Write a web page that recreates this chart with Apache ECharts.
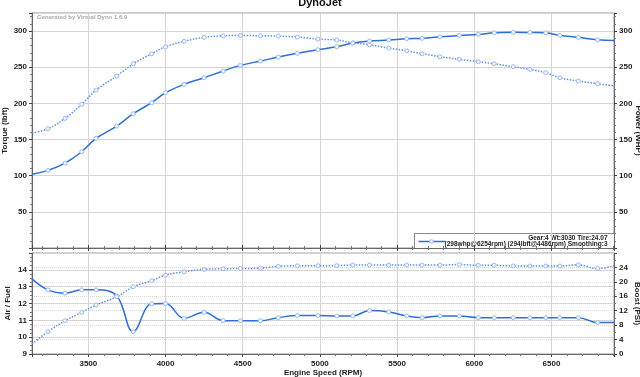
<!DOCTYPE html>
<html>
<head>
<meta charset="utf-8">
<script src="https://cdn.jsdelivr.net/npm/echarts@6/dist/echarts.min.js"></script>
<style>
  html, body { margin: 0; padding: 0; background: #fff; }
  #main { width: 640px; height: 377px; }
</style>
</head>
<body>
<div id="main"></div>
<script>
// sample points (rpm), first and last are the plot edges
const rpm = [3135, 3238, 3349, 3457, 3550, 3684, 3791, 3910, 4000, 4120, 4250, 4373, 4485, 4614, 4731, 4854, 4987,
    5109, 5213, 5321, 5446, 5562, 5662, 5778, 5903, 6026, 6129, 6252, 6360, 6463, 6554, 6674, 6799, 6905]
const torque = [159, 165, 179.3, 198.7, 218.4, 237.8, 254.8, 268.6, 278.3, 285.8, 291.3, 293.5, 294, 293.5, 293.1, 291.7, 288.9,
    287.6, 283.8, 281.1, 276.5, 272.8, 268.6, 264.5, 260.9, 257.6, 254.8, 250.7, 247.1, 242.4, 235.5, 230.9, 227.2, 224]
const power = [101.9, 107.4, 117.5, 133.1, 151.6, 168.7, 185.7, 200.9, 214.7, 226.3, 235.5, 244.7, 252.6, 258.5, 264, 269.2, 274.2,
    278.3, 283.4, 286.2, 287.6, 289.4, 289.9, 292.1, 294, 295.4, 297.6, 298.3, 298, 297.6, 294, 291.3, 288, 287]
const afr = [13.46, 12.81, 12.61, 12.81, 12.81, 12.45, 10.33, 11.98, 12.0, 11.12, 11.48, 10.98, 10.98, 10.98, 11.16, 11.28, 11.28,
    11.26, 11.26, 11.58, 11.5, 11.26, 11.16, 11.26, 11.26, 11.16, 11.16, 11.16, 11.16, 11.16, 11.16, 11.16, 10.87, 10.87]
const boost = [2.77, 6.18, 9.22, 11.55, 13.57, 15.87, 18.64, 20.3, 21.88, 22.8, 23.46, 23.63, 23.7, 23.8, 24.3, 24.46, 24.46,
    24.5, 24.65, 24.65, 24.65, 24.65, 24.65, 24.65, 24.8, 24.6, 24.6, 24.4, 24.4, 24.4, 24.4, 24.7, 23.7, 24.45]

const infoLine1 = 'Gear:4 Wt:3030 Tire:24.07'
const infoLine2 = '(298whp@6254rpm) (294lbft@4486rpm) Smoothing:3'

const font = '"Liberation Sans", Arial, sans-serif'
const solidBlue = '#2f6fd3'
const dotBlue = '#5b90e4'

const withRpm = values =>
    values.map((v, i) => {
        const item = { value: [rpm[i], v] }
        // edge points have no marker
        if (i === 0 || i === values.length - 1) item.symbol = 'none'
        return item
    })

const labelStyle = {
    color: '#222',
    fontSize: 8,
    fontWeight: 'bold',
    fontFamily: font,
}

const rpmAxis = (gridIndex, extra) =>
    Object.assign(
        {
            type: 'value',
            gridIndex,
            min: rpm[0],
            max: rpm[rpm.length - 1],
            splitNumber: 8,
            nameMoveOverlap: false,
            axisLine: { lineStyle: { color: '#666' } },
            axisTick: { length: 3, inside: true, lineStyle: { color: '#444' } },
            minorTick: { show: true, splitNumber: 5, length: 2, lineStyle: { color: '#777' } },
            splitLine: { show: true, lineStyle: { color: '#d4d4d4' } },
            axisLabel: { show: false },
        },
        extra
    )

const valueAxis = (gridIndex, position, extra) =>
    Object.assign(
        {
            type: 'value',
            gridIndex,
            position,
            nameLocation: 'middle',
            nameMoveOverlap: false,
            nameTextStyle: labelStyle,
            axisLine: { show: true, lineStyle: { color: '#666' } },
            axisTick: { show: true, length: 3, lineStyle: { color: '#444' } },
            minorTick: { show: true, splitNumber: 5, length: 2, lineStyle: { color: '#777' } },
            axisLabel: Object.assign({ margin: 5, showMaxLabel: false }, labelStyle),
        },
        extra
    )

const markerStyle = { color: '#f3f7fe', borderColor: '#9bbaf0', borderWidth: 1 }

const lineSeries = (name, xi, yi, values, color, type) => ({
    name,
    type: 'line',
    xAxisIndex: xi,
    yAxisIndex: yi,
    smooth: 0.4,
    symbol: 'circle',
    symbolSize: 4,
    itemStyle: markerStyle,
    lineStyle: { color, width: 1.5, type },
    data: withRpm(values),
})

const option = {
    animation: false,
    backgroundColor: '#fff',
    title: {
        text: 'DynoJet',
        left: 'center',
        top: -8,
        textStyle: { fontSize: 11, fontWeight: 'bold', color: '#111', fontFamily: font },
    },
    grid: [
        { left: 32, right: 26, top: 13, height: 235, show: true, borderColor: '#999', outerBoundsMode: 'none', containLabel: false },
        { left: 32, right: 26, top: 253, height: 101, show: true, borderColor: '#999', outerBoundsMode: 'none', containLabel: false },
    ],
    xAxis: [
        rpmAxis(0, { position: 'bottom' }),
        rpmAxis(1, {
            position: 'bottom',
            name: 'Engine Speed (RPM)',
            nameLocation: 'middle',
            nameGap: 15,
            nameTextStyle: labelStyle,
            axisTick: { length: 3, inside: false, lineStyle: { color: '#444' } },
            axisLabel: Object.assign(
                { show: true, margin: 6, showMinLabel: false, showMaxLabel: false, formatter: v => String(v) },
                labelStyle
            ),
        }),
        rpmAxis(0, { position: 'top', splitLine: { show: false } }),
    ],
    yAxis: [
        valueAxis(0, 'left', {
            name: 'Torque (lbft)',
            nameGap: 23,
            nameRotate: 90,
            min: 0,
            max: 325,
            interval: 50,
            axisLabel: Object.assign({ margin: 5, showMinLabel: false, showMaxLabel: false }, labelStyle),
            splitLine: { show: true, lineStyle: { color: '#d4d4d4' } },
        }),
        valueAxis(0, 'right', {
            name: 'Power (WHP)',
            nameGap: 20,
            nameRotate: -90,
            min: 0,
            max: 325,
            interval: 50,
            axisLabel: Object.assign({ margin: 5, showMinLabel: false, showMaxLabel: false }, labelStyle),
            splitLine: { show: false },
        }),
        valueAxis(1, 'left', {
            name: 'Air / Fuel',
            nameGap: 20,
            nameRotate: 90,
            min: 9,
            max: 15,
            interval: 1,
            minorTick: { show: true, splitNumber: 4, length: 2, lineStyle: { color: '#777' } },
            splitLine: { show: true, lineStyle: { color: '#d4d4d4' } },
        }),
        valueAxis(1, 'right', {
            name: 'Boost (PSI)',
            nameGap: 19,
            nameRotate: -90,
            min: 0,
            max: 28,
            interval: 4,
            minorTick: { show: true, splitNumber: 2, length: 2, lineStyle: { color: '#777' } },
            splitLine: { show: true, lineStyle: { color: '#d8d8d8', type: 'dotted' } },
        }),
    ],
    graphic: [
        {
            type: 'text',
            left: 37,
            top: 14,
            style: {
                text: 'Generated by Virtual Dyno 1.6.9',
                fill: '#a8a8a8',
                font: 'bold 6px ' + font,
            },
        },
        {
            type: 'group',
            left: 414,
            top: 233,
            children: [
                {
                    type: 'rect',
                    shape: { x: 0, y: 0, width: 200, height: 15 },
                    style: { fill: '#fff', stroke: '#888', lineWidth: 1 },
                },
                {
                    type: 'line',
                    shape: { x1: 4, y1: 8, x2: 31, y2: 8 },
                    style: { stroke: solidBlue, lineWidth: 1.5 },
                },
                {
                    type: 'circle',
                    shape: { cx: 17, cy: 8, r: 1.8 },
                    style: { fill: '#f3f7fe', stroke: '#9bbaf0', lineWidth: 1 },
                },
                {
                    type: 'text',
                    x: 193,
                    y: 4.3,
                    style: {
                        text: infoLine1,
                        align: 'right',
                        verticalAlign: 'middle',
                        fill: '#222',
                        font: 'bold 6.5px ' + font,
                    },
                },
                {
                    type: 'text',
                    x: 193,
                    y: 11,
                    style: {
                        text: infoLine2,
                        align: 'right',
                        verticalAlign: 'middle',
                        fill: '#222',
                        font: 'bold 6.5px ' + font,
                    },
                },
            ],
        },
    ],
    series: [
        lineSeries('Torque', 0, 0, torque, dotBlue, 'dotted'),
        lineSeries('Power', 0, 1, power, solidBlue, 'solid'),
        lineSeries('Air / Fuel', 1, 2, afr, solidBlue, 'solid'),
        lineSeries('Boost', 1, 3, boost, dotBlue, 'dotted'),
    ],
}

const chart = echarts.init(document.getElementById('main'))
chart.setOption(option)
</script>
</body>
</html>
